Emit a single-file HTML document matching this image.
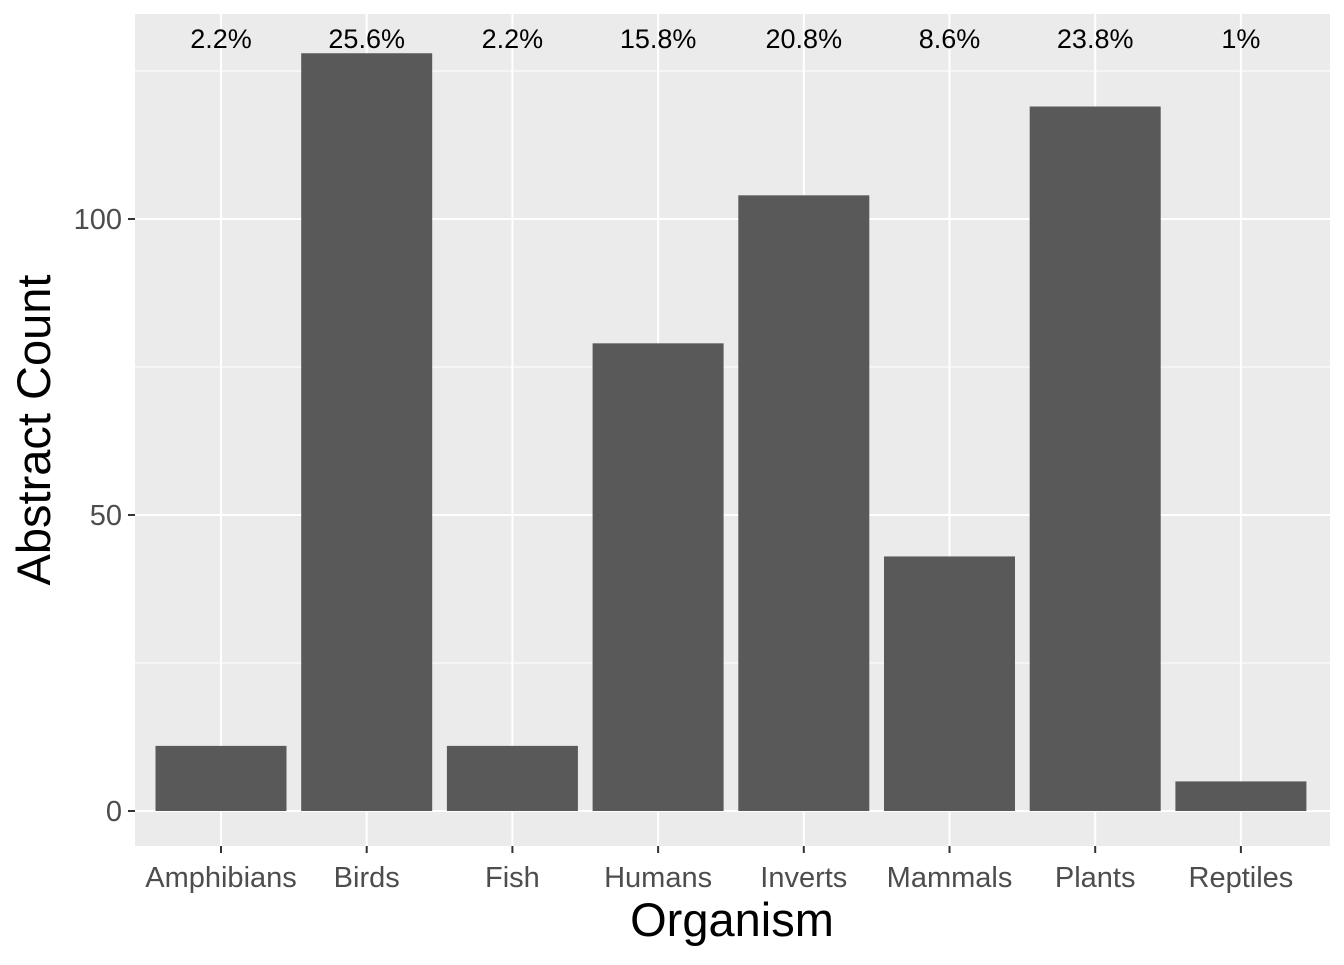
<!DOCTYPE html>
<html><head><meta charset="utf-8"><style>
body{margin:0;background:#fff;}
svg text{font-family:"Liberation Sans",Arial,sans-serif;}
</style></head><body>
<svg id="chart" width="1344" height="960" xmlns="http://www.w3.org/2000/svg">
<rect x="135" y="14" width="1195" height="832" fill="#ebebeb"/>
<g id="grid"></g><g id="bars"></g><g id="labels"></g><g id="axes"></g>
<text x="732" y="936" font-size="47" text-anchor="middle" fill="#000">Organism</text>
<text transform="translate(50,430) rotate(-90)" font-size="47" text-anchor="middle" fill="#000">Abstract Count</text>
</svg>
<script>
const categories=["Amphibians","Birds","Fish","Humans","Inverts","Mammals","Plants","Reptiles"];
const counts=[11,128,11,79,104,43,119,5];
const pctLabels=["2.2%","25.6%","2.2%","15.8%","20.8%","8.6%","23.8%","1%"];
const yTicks=[0,50,100];
const yMinor=[25,75,125];
const NS="http://www.w3.org/2000/svg";
const y=v=>811-v*5.92;
const step=145.7;
const x=i=>221+step*i;
function mk(tag,attrs,parent){const e=document.createElementNS(NS,tag);for(const k in attrs)e.setAttribute(k,attrs[k]);document.getElementById(parent).appendChild(e);return e;}
yMinor.forEach(v=>{const l=mk('line',{x1:135,x2:1330,y1:y(v),y2:y(v),stroke:'#fff','stroke-width':1},'grid');

});
yTicks.forEach(v=>{const l=mk('line',{x1:135,x2:1330,y1:y(v),y2:y(v),stroke:'#fff','stroke-width':2},'grid');


const t=mk('line',{x1:128,x2:135,y1:y(v),y2:y(v),stroke:'#333','stroke-width':2},'axes');


const tx=mk('text',{x:122,y:y(v)+10,'font-size':29,'text-anchor':'end',fill:'#4d4d4d'},'axes');tx.textContent=v;

});
categories.forEach((c,i)=>{const cx=x(i);
const g=mk('line',{x1:cx,x2:cx,y1:14,y2:846,stroke:'#fff','stroke-width':2},'grid');


const b=mk('rect',{x:cx-65.5,y:y(counts[i]),width:131,height:counts[i]*5.92,fill:'#595959'},'bars');


const p=mk('text',{x:cx,y:48,'font-size':27,'text-anchor':'middle',fill:'#000'},'labels');p.textContent=pctLabels[i];


const t=mk('line',{x1:cx,x2:cx,y1:846,y2:853,stroke:'#333','stroke-width':2},'axes');


const tx=mk('text',{x:cx,y:887,'font-size':29,'text-anchor':'middle',fill:'#4d4d4d'},'axes');tx.textContent=c;

});
</script>
</body></html>
